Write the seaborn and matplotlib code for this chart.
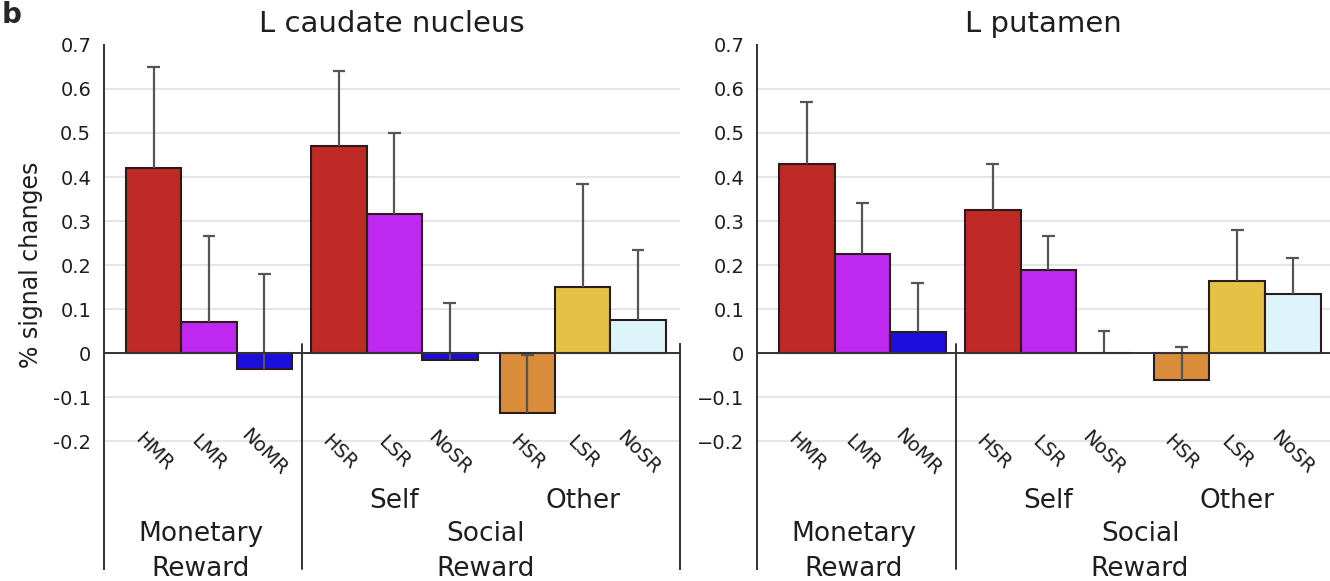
import numpy as np
import pandas as pd
import matplotlib
matplotlib.use("Agg")
import matplotlib.pyplot as plt
import seaborn as sns

# conditions (x axis), colour per bar
conditions = ["HMR", "LMR", "NoMR", "HSR", "LSR", "NoSR", "HSR", "LSR", "NoSR"]
keys = ["HMR", "LMR", "NoMR", "HSR self", "LSR self", "NoSR self",
        "HSR other", "LSR other", "NoSR other"]
positions = [0, 1, 2, 3.35, 4.35, 5.35, 6.75, 7.75, 8.75]
bar_colors = ["#BF2A27", "#BE28F0", "#1C0EDC", "#BF2A27", "#BE28F0", "#1C0EDC",
              "#D98C3A", "#E5C245", "#DDF5FA"]

# % signal change, mean and SE (upper half of error bar)
caudate_mean = [0.42, 0.07, -0.035, 0.47, 0.315, -0.015, -0.135, 0.15, 0.075]
caudate_err = [0.23, 0.195, 0.215, 0.17, 0.185, 0.13, 0.13, 0.235, 0.16]
putamen_mean = [0.43, 0.225, 0.048, 0.325, 0.19, 0.0, -0.06, 0.165, 0.135]
putamen_err = [0.14, 0.115, 0.112, 0.105, 0.075, 0.05, 0.075, 0.115, 0.08]

yticks = [-0.2, -0.1, 0, 0.1, 0.2, 0.3, 0.4, 0.5, 0.6, 0.7]

sns.set_style("white")
plt.rcParams["font.family"] = ["DejaVu Sans"]

fig = plt.figure(figsize=(13.3, 5.81), dpi=100)
ax1 = fig.add_axes([0.078, 0.0207, 0.433, 0.902])
ax2 = fig.add_axes([0.569, 0.0207, 0.431, 0.902])

line_col = "#333333"
text_col = "#1e1e1e"


def draw_panel(ax, means, errs, title, minus, xmax, right_line):
    df = pd.DataFrame({"pos": positions, "val": means, "key": keys})
    for y in yticks:
        if y not in (0, 0.7):
            ax.axhline(y, color="#e4e4e4", lw=1.3, zorder=0)
    sns.barplot(data=df, x="pos", y="val", hue="key", hue_order=keys,
                palette=dict(zip(keys, bar_colors)), native_scale=True,
                dodge=False, width=1.0, saturation=1, edgecolor="#2b1b1b",
                linewidth=1.5, errorbar=None, legend=False, ax=ax, zorder=2)

    # upper error bars only
    tops = np.array(means) + np.array(errs)
    pos = np.array(positions)
    ax.vlines(pos, means, tops, color="#555555", lw=1.6, zorder=3)
    ax.hlines(tops, pos - 0.115, pos + 0.115, color="#555555", lw=1.6, zorder=3)
    ax.axhline(0, color=line_col, lw=1.4, zorder=4)

    ax.set_xlim(-0.9, xmax)
    ax.set_ylim(-0.49, 0.7)
    ax.set_xticks([])
    ax.set_xlabel("")
    labels = [("0" if t == 0 else f"{t:.1f}".replace("-", minus)) for t in yticks]
    ax.set_yticks(yticks, labels)
    ax.tick_params(axis="y", length=0, labelsize=14, pad=9, labelcolor=text_col)
    ax.set_ylabel("")

    for s in ["top", "bottom"]:
        ax.spines[s].set_visible(False)
    ax.spines["left"].set_color(line_col)
    ax.spines["left"].set_linewidth(1.4)
    if right_line:
        ax.spines["right"].set_bounds(-0.49, 0.02)
        ax.spines["right"].set_color(line_col)
        ax.spines["right"].set_linewidth(1.4)
    else:
        ax.spines["right"].set_visible(False)

    # separator between monetary and social reward
    ax.plot([2.68, 2.68], [0.02, -0.49], color=line_col, lw=1.4, clip_on=False)

    for p, c in zip(positions, conditions):
        ax.text(p, -0.225, c, rotation=-45, ha="center", va="center",
                fontsize=14, color=text_col)
    ax.text(4.35, -0.336, "Self", ha="center", va="center", fontsize=19, color=text_col)
    ax.text(7.75, -0.336, "Other", ha="center", va="center", fontsize=19, color=text_col)
    ax.text(0.85, -0.41, "Monetary", ha="center", va="center", fontsize=19, color=text_col)
    ax.text(0.85, -0.49, "Reward", ha="center", va="center", fontsize=19, color=text_col)
    ax.text(6.0, -0.41, "Social", ha="center", va="center", fontsize=19, color=text_col)
    ax.text(6.0, -0.49, "Reward", ha="center", va="center", fontsize=19, color=text_col)

    ax.set_title(title, fontsize=21, pad=9, color=text_col)


draw_panel(ax1, caudate_mean, caudate_err, "L caudate nucleus", "-", 9.5, True)
draw_panel(ax2, putamen_mean, putamen_err, "L putamen", "\u2212", 9.42, False)

ax1.set_ylabel("% signal changes", fontsize=17, color=text_col)
ax1.yaxis.set_label_coords(-0.106, 0.58)

fig.text(0.001, 0.998, "b", fontsize=20, fontweight="bold", va="top", ha="left")

fig.savefig("out.png", dpi=100)
